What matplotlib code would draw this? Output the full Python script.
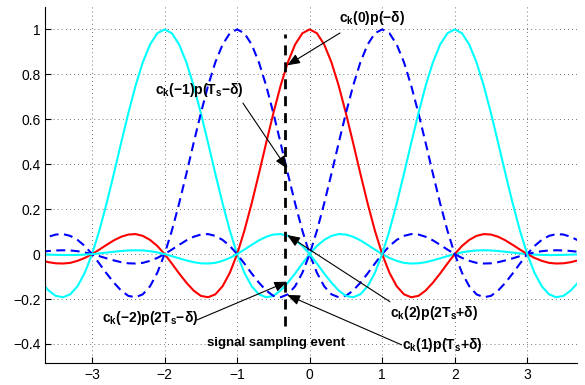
"""Raised-cosine pulse train with the sampling instant offset by delta."""

import matplotlib

matplotlib.use("Agg")
import matplotlib.pyplot as plt
import numpy as np

# pulse p(t), t = 0.0, 0.1, ..., 5.7 (the pulse is even)
PULSE_STEP = 0.1
PULSE_HALF = [
    1.000, 0.983, 0.933, 0.854, 0.750, 0.627, 0.494, 0.357, 0.225, 0.104,
    0.000, -0.083, -0.143, -0.179, -0.192, -0.186, -0.162, -0.127, -0.086, -0.042,
    0.000, 0.036, 0.063, 0.081, 0.089, 0.087, 0.077, 0.061, 0.041, 0.020,
    0.000, -0.017, -0.030, -0.039, -0.042, -0.041, -0.036, -0.028, -0.019, -0.009,
    0.000, 0.0075, 0.0129, 0.0161, 0.0170, 0.0161, 0.0137, 0.0103, 0.0066, 0.0031,
    0.000, -0.0023, -0.0037, -0.0042, -0.0041, -0.0034, -0.0024, -0.0015,
]

# symbol index k -> pulse centre, colour, style
SYMBOLS = [-2, -1, 0, 1, 2]
SYMBOL_COLORS = {-2: "#00ffff", -1: "#0000ff", 0: "#ff0000", 1: "#0000ff", 2: "#00ffff"}
SYMBOL_DASHED = {-2: False, -1: True, 0: False, 1: True, 2: False}

DELTA = 1 / 3
SAMPLING_LINE = (-0.32, 0.98)

X_TICKS = [-3, -2, -1, 0, 1, 2, 3]
Y_TICKS = [-0.4, -0.2, 0, 0.2, 0.4, 0.6, 0.8, 1]

# (label, text position, arrow tail, value at the sampling instant)
LABELS = [
    (r"$\mathrm{c_k(0)p({-}\delta)}$", (0.86, 1.05), (0.418, 0.984), 0.84),
    (r"$\mathrm{c_k({-}1)p(T_s{-}\delta)}$", (-1.52, 0.73), (-0.92, 0.672), 0.38),
    (r"$\mathrm{c_k({-}2)p(2T_s{-}\delta)}$", (-2.20, -0.284), (-1.553, -0.293), -0.123),
    (r"$\mathrm{c_k(2)p(2T_s{+}\delta)}$", (1.71, -0.262), (1.107, -0.212), 0.085),
    (r"$\mathrm{c_k(1)p(T_s{+}\delta)}$", (1.83, -0.404), (1.268, -0.404), -0.182),
]

plt.rcParams["font.family"] = ["Liberation Sans", "DejaVu Sans"]
plt.rcParams["mathtext.fontset"] = "custom"
for key in ("rm", "it", "bf", "sf"):
    plt.rcParams[f"mathtext.{key}"] = "Liberation Sans:bold"


def full_pulse():
    half = np.array(PULSE_HALF)
    t = np.arange(len(half)) * PULSE_STEP
    x = np.concatenate([-t[::-1], t[1:]])
    y = np.concatenate([half[::-1], half[1:]])
    return x, y


def main():
    fig = plt.figure(figsize=(5.85, 3.85), dpi=100)
    ax = fig.add_axes([0.0774, 0.0564, 0.9094, 0.9256])

    tx, ty = full_pulse()
    for k in SYMBOLS:
        line, = ax.plot(tx + k, ty, color=SYMBOL_COLORS[k], lw=1.5)
        if SYMBOL_DASHED[k]:
            line.set_dashes((4.3, 2.6))

    ax.plot([-DELTA, -DELTA], SAMPLING_LINE, color="k", lw=2.0, dashes=(3.6, 2.5))

    for label, text_pos, tail, value in LABELS:
        ax.text(*text_pos, label, ha="center", va="center", fontsize=10)
        ax.annotate(
            "", xy=(-0.31, value), xytext=tail,
            arrowprops=dict(arrowstyle="-|>,head_length=0.55,head_width=0.22",
                            color="k", lw=0.8, mutation_scale=14,
                            shrinkA=0, shrinkB=0),
        )
    ax.text(-0.458, -0.395, "signal sampling event", ha="center", va="center",
            fontsize=9.5, fontweight="bold")

    ax.set_xlim(-3.645, 3.69)
    ax.set_ylim(-0.486, 1.1)
    ax.set_xticks(X_TICKS)
    ax.set_yticks(Y_TICKS)
    ax.set_yticklabels([f"{v:g}".replace("-", "\u2212") for v in Y_TICKS])
    ax.tick_params(direction="in", length=4, labelsize=10, width=0.8)
    ax.grid(True, color="0.25", lw=0.7, dashes=(0.7, 3.5))
    for side in ("top", "right"):
        ax.spines[side].set_visible(False)

    fig.savefig("out.png", dpi=100)
    plt.close(fig)


if __name__ == "__main__":
    main()
